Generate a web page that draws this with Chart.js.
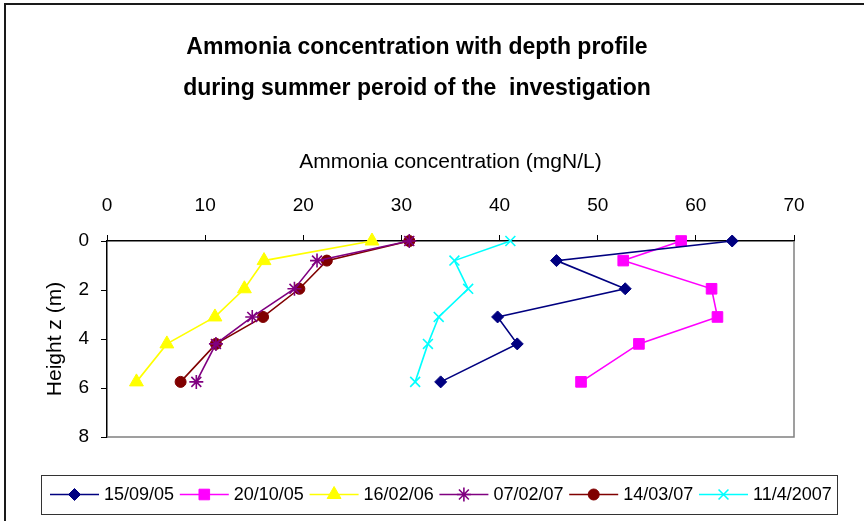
<!DOCTYPE html>
<html>
<head>
<meta charset="utf-8">
<script src="https://cdn.jsdelivr.net/npm/chart.js@4"></script>
<style>
    html, body { margin: 0; padding: 0; background: #ffffff; }
    #wrap { width: 864px; height: 521px; position: relative; }
</style>
</head>
<body>
<div id="wrap"><canvas id="chart" width="864" height="521"></canvas></div>
<script>
// 深度 (m)
const depths = [0, 0.8, 1.95, 3.1, 4.2, 5.75];

// 各采样日期的氨浓度 (mgN/L)
const seriesLabels = ['15/09/05', '20/10/05', '16/02/06', '07/02/07', '14/03/07', '11/4/2007'];
const conc150905 = [63.7, 45.8, 52.8, 39.8, 41.8, 34.0];
const conc201005 = [58.5, 52.6, 61.6, 62.2, 54.2, 48.3];
const conc160206 = [27.0, 16.0, 14.0, 11.0, 6.1, 3.0];
const conc070207 = [30.8, 21.4, 19.1, 14.8, 11.1, 9.1];
const conc140307 = [30.8, 22.4, 19.6, 15.9, 11.1, 7.5];
const conc110407 = [41.1, 35.4, 36.8, 33.8, 32.7, 31.4];

// 坐标轴刻度
const xTicks = [0, 10, 20, 30, 40, 50, 60, 70];
const yTicks = [0, 2, 4, 6, 8];

const titleLines = ['Ammonia concentration with depth profile', 'during summer peroid of the  investigation'];
const xTitle = 'Ammonia concentration (mgN/L)';
const yTitle = 'Height z (m)';

const FONT = '"Liberation Sans Narrow", "Arial Narrow", "Liberation Sans", Arial, sans-serif';

// 样式: 颜色, 点形状, 点大小
const styles = [
    { color: '#000080', point: 'rectRot', radius: 6 },
    { color: '#FF00FF', point: 'rect', radius: 7.5 },
    { color: '#FFFF00', point: 'triangle', radius: 8 },
    { color: '#800080', point: 'star', radius: 7 },
    { color: '#800000', point: 'circle', radius: 5.5 },
    { color: '#00FFFF', point: 'crossRot', radius: 7 }
];

const allSeries = [conc150905, conc201005, conc160206, conc070207, conc140307, conc110407];

function toPoints(values) {
    return values.map((v, i) => ({ x: v, y: depths[i] }));
}

const datasets = allSeries.map((values, i) => ({
    label: seriesLabels[i],
    data: toPoints(values),
    showLine: true,
    clip: false,
    borderColor: styles[i].color,
    backgroundColor: styles[i].color,
    borderWidth: 1.6,
    pointStyle: styles[i].point,
    pointRadius: styles[i].radius,
    pointBorderWidth: (styles[i].point === 'star' || styles[i].point === 'crossRot') ? 1.6 : 1,
    pointHoverRadius: styles[i].radius,
    tension: 0
}));

// 外框、标题、绘图区右/下边框和图例
const decorPlugin = {
    id: 'decor',
    beforeDraw(chart) {
        const ctx = chart.ctx;
        ctx.save();
        ctx.fillStyle = '#ffffff';
        ctx.fillRect(0, 0, chart.width, chart.height);
        ctx.strokeStyle = '#1a1a1a';
        ctx.lineWidth = 2;
        ctx.strokeRect(5, 4, chart.width + 10, chart.height + 10);
        ctx.restore();
    },
    afterDraw(chart) {
        const ctx = chart.ctx;
        const area = chart.chartArea;
        ctx.save();

        // 标题
        ctx.fillStyle = '#000000';
        ctx.font = 'bold 23px ' + FONT;
        ctx.textAlign = 'center';
        ctx.textBaseline = 'alphabetic';
        ctx.fillText(titleLines[0], 417, 54);
        ctx.fillText(titleLines[1], 417, 95);

        // 绘图区右侧和底部边框
        ctx.strokeStyle = '#808080';
        ctx.lineWidth = 1.5;
        ctx.beginPath();
        ctx.moveTo(area.left, area.bottom);
        ctx.lineTo(area.right, area.bottom);
        ctx.lineTo(area.right, area.top);
        ctx.stroke();

        // 图例
        const box = { left: 41, top: 475, width: 796, height: 39 };
        ctx.strokeStyle = '#333333';
        ctx.lineWidth = 1;
        ctx.strokeRect(box.left + 0.5, box.top + 0.5, box.width, box.height);
        const cy = box.top + box.height / 2;
        ctx.font = '18px ' + FONT;
        ctx.textAlign = 'left';
        ctx.textBaseline = 'middle';
        chart.data.datasets.forEach((ds, i) => {
            const x0 = 50 + i * 129.8;
            ctx.strokeStyle = ds.borderColor;
            ctx.lineWidth = 1.6;
            ctx.beginPath();
            ctx.moveTo(x0, cy);
            ctx.lineTo(x0 + 49, cy);
            ctx.stroke();
            ctx.fillStyle = ds.backgroundColor;
            ctx.lineWidth = ds.pointBorderWidth;
            Chart.helpers.drawPoint(ctx, {
                pointStyle: ds.pointStyle,
                radius: ds.pointRadius,
                rotation: 0,
                borderWidth: ds.pointBorderWidth
            }, x0 + 24.5, cy);
            ctx.fillStyle = '#000000';
            ctx.fillText(ds.label, x0 + 54, cy + 1);
        });
        ctx.restore();
    }
};

new Chart(document.getElementById('chart'), {
    type: 'scatter',
    data: { datasets: datasets },
    plugins: [decorPlugin],
    options: {
        responsive: false,
        animation: false,
        layout: { padding: { top: 0, left: 0, right: 70, bottom: 84 } },
        plugins: {
            legend: { display: false },
            title: { display: false },
            tooltip: { enabled: false }
        },
        scales: {
            x: {
                type: 'linear',
                position: 'top',
                min: 0,
                max: 70,
                afterFit: scale => { scale.height = 241; },
                afterBuildTicks: scale => { scale.ticks = xTicks.map(v => ({ value: v })); },
                grid: { drawOnChartArea: false, drawTicks: true, tickLength: 6, color: '#000000' },
                border: { display: true, color: '#000000', width: 1.5 },
                ticks: { color: '#000000', padding: 18, font: { family: FONT, size: 19 } },
                title: {
                    display: true,
                    text: xTitle,
                    color: '#000000',
                    font: { family: FONT, size: 21 },
                    padding: { top: 150, bottom: 0 }
                }
            },
            y: {
                type: 'linear',
                position: 'left',
                reverse: true,
                min: 0,
                max: 8,
                afterFit: scale => { scale.width = 107; },
                afterBuildTicks: scale => { scale.ticks = yTicks.map(v => ({ value: v })); },
                grid: { drawOnChartArea: false, drawTicks: true, tickLength: 6, color: '#000000' },
                border: { display: true, color: '#000000', width: 1.5 },
                ticks: { color: '#000000', padding: 12, font: { family: FONT, size: 19 } },
                title: {
                    display: true,
                    text: yTitle,
                    color: '#000000',
                    font: { family: FONT, size: 21 },
                    padding: { top: 43, bottom: 0 }
                }
            }
        }
    }
});
</script>
</body>
</html>
